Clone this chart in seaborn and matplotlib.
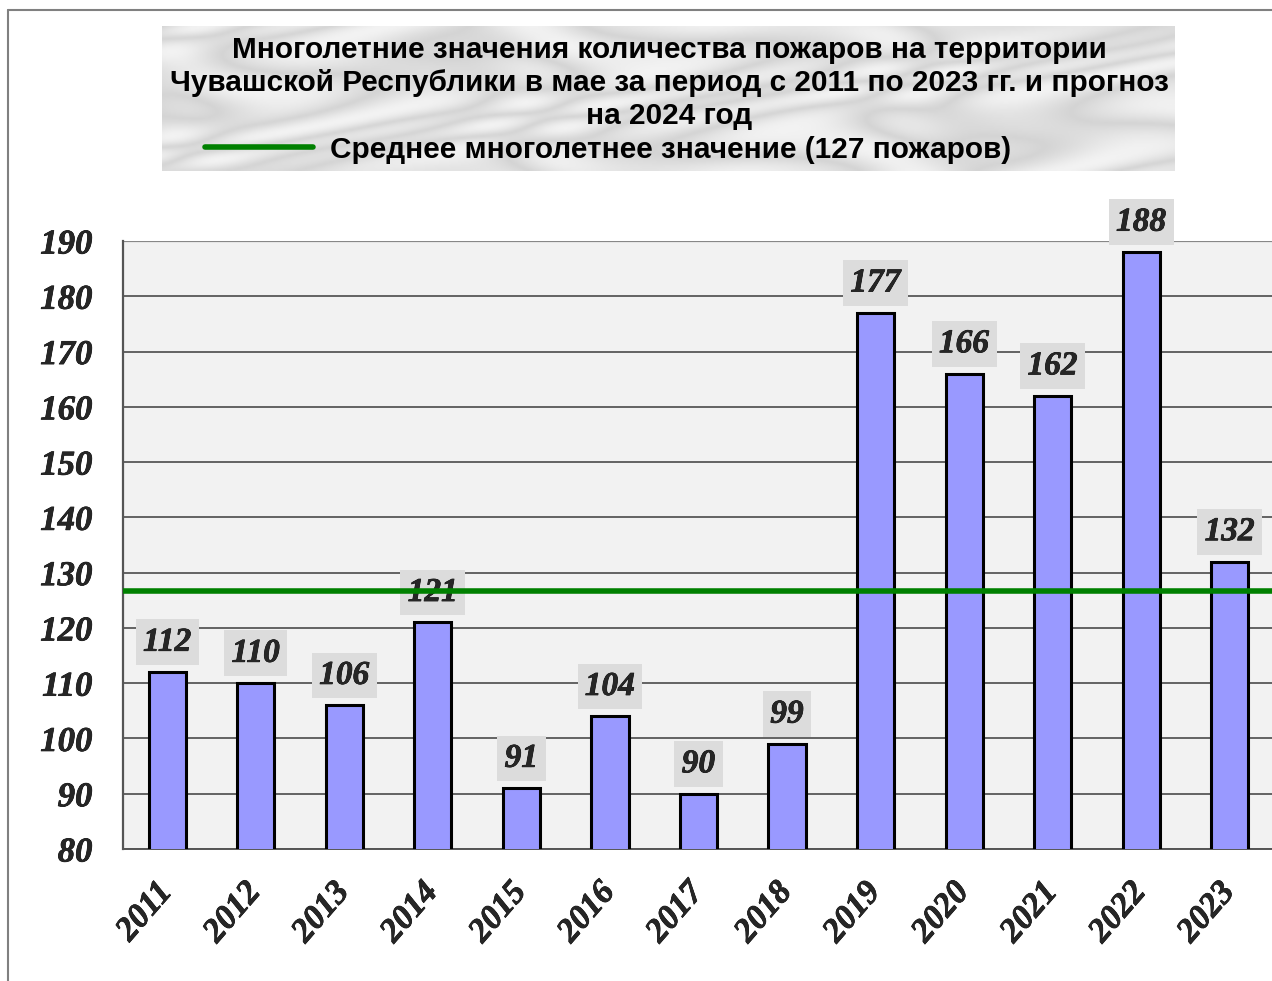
import numpy as np
import pandas as pd
import matplotlib
matplotlib.use("Agg")
import matplotlib.pyplot as plt
import matplotlib.transforms as mtransforms
import matplotlib.patheffects as pe
from matplotlib.lines import Line2D
import seaborn as sns

# data
years = ["2011", "2012", "2013", "2014", "2015", "2016", "2017",
         "2018", "2019", "2020", "2021", "2022", "2023"]
fires = [112, 110, 106, 121, 91, 104, 90, 99, 177, 166, 162, 188, 132]
mean_fires = 126.7  # green line, labelled as 127
y_ticks = [80, 90, 100, 110, 120, 130, 140, 150, 160, 170, 180, 190]

title_lines = ["Многолетние значения количества пожаров на территории",
               "Чувашской Республики в мае за период с 2011 по 2023 гг. и прогноз",
               "на 2024 год"]
legend_text = "Среднее многолетнее значение (127 пожаров)"

df = pd.DataFrame({"year": years, "fires": fires})

sns.set_style("white")
serif = ["Liberation Serif", "DejaVu Serif"]
sans = ["Liberation Sans", "DejaVu Sans"]
heavy = [pe.withStroke(linewidth=0.5, foreground="black")]

W, H = 1272, 981
fig = plt.figure(figsize=(W / 100, H / 100), dpi=100)
fig.patch.set_facecolor("white")

# outer frame (cut at right and bottom)
fig.add_artist(Line2D([8 / W, 1.0], [1 - 10 / H, 1 - 10 / H], color="#808080", lw=1.5))
fig.add_artist(Line2D([8 / W, 8 / W], [0, 1 - 10 / H], color="#808080", lw=1.5))

# title box with a light marble-like fill
tb = fig.add_axes([162 / W, 1 - 171 / H, (1175 - 162) / W, (171 - 26) / H])
gx, gy = np.meshgrid(np.linspace(0, 1, 600), np.linspace(0, 1, 90))
veins = (np.sin(23 * gx + 9 * gy + 3 * np.sin(7 * gy + 5 * gx))
         + 0.6 * np.sin(13 * gx - 11 * gy + 2 * np.sin(17 * gx)))
tex = np.clip(np.abs(veins) / 1.6, 0, 1)
tb.imshow(0.83 + 0.12 * tex, cmap="gray", vmin=0, vmax=1,
          aspect="auto", extent=[0, 1, 0, 1], interpolation="bicubic")
tb.set_xlim(0, 1)
tb.set_ylim(0, 1)
tb.axis("off")

title_y = [50, 83, 116]
for line, yy in zip(title_lines, title_y):
    fig.text(669 / W, 1 - yy / H, line, ha="center", va="center",
             fontsize=21.4, fontweight="bold", family=sans, color="black")
fig.add_artist(Line2D([205 / W, 313 / W], [1 - 147 / H, 1 - 147 / H],
                      color="#008000", lw=4))
fig.text(330 / W, 1 - 150 / H, legend_text, ha="left", va="center",
         fontsize=21.4, fontweight="bold", family=sans, color="black")

# main axes
ax = fig.add_axes([123 / W, 1 - 849 / H, (1274 - 123) / W, (849 - 241) / H])
ax.set_facecolor("#F2F2F2")
sns.barplot(data=df, x="year", y="fires", color="#9999FF", saturation=1,
            edgecolor="black", linewidth=2.2, width=0.42, ax=ax, zorder=3)

ax.set_ylim(80, 190)
ax.set_xlim(-0.5, len(years) - 0.5)
ax.set_yticks(y_ticks)
ax.set_yticklabels([str(t) for t in y_ticks])
ax.yaxis.grid(True, color="#4a4a4a", lw=1.2)
ax.set_axisbelow(True)
ax.set_xlabel("")
ax.set_ylabel("")

for s in ["top", "right"]:
    ax.spines[s].set_visible(False)
ax.spines["left"].set_color("#555555")
ax.spines["left"].set_linewidth(1.6)
ax.spines["bottom"].set_color("#555555")
ax.spines["bottom"].set_linewidth(1.4)
ax.axhline(190, color="#888888", lw=1.6, zorder=1)

ax.tick_params(axis="y", length=7, width=1.3, color="#555555", pad=15,
               labelsize=25, direction="out")
ax.tick_params(axis="x", which="major", length=0, pad=20, labelsize=24.5)
ax.set_xticks(np.arange(-0.5, len(years), 1.0), minor=True)
ax.tick_params(axis="x", which="minor", length=7, width=1.3, color="#555555",
               direction="out")

for lab in ax.get_yticklabels():
    lab.set_family(serif)
    lab.set_fontweight("bold")
    lab.set_fontstyle("italic")
    lab.set_path_effects(heavy)

shift = mtransforms.ScaledTranslation(11 / 100, 0, fig.dpi_scale_trans)
for lab in ax.get_xticklabels():
    lab.set_family(serif)
    lab.set_fontweight("bold")
    lab.set_fontstyle("italic")
    lab.set_rotation(49)
    lab.set_ha("right")
    lab.set_va("top")
    lab.set_path_effects(heavy)
    lab.set_transform(lab.get_transform() + shift)

# value labels on little grey boxes
for i, v in enumerate(fires):
    ax.annotate(str(v), xy=(i, v), xytext=(0, 21.5), textcoords="offset points",
                ha="center", va="center", fontsize=24, fontweight="bold",
                fontstyle="italic", family=serif, zorder=4, path_effects=heavy,
                bbox=dict(boxstyle="square,pad=0.22", fc="#DCDCDC", ec="none"))

# long-term mean
ax.axhline(mean_fires, color="#008000", lw=4, zorder=5)

fig.savefig("out.png", dpi=100)
